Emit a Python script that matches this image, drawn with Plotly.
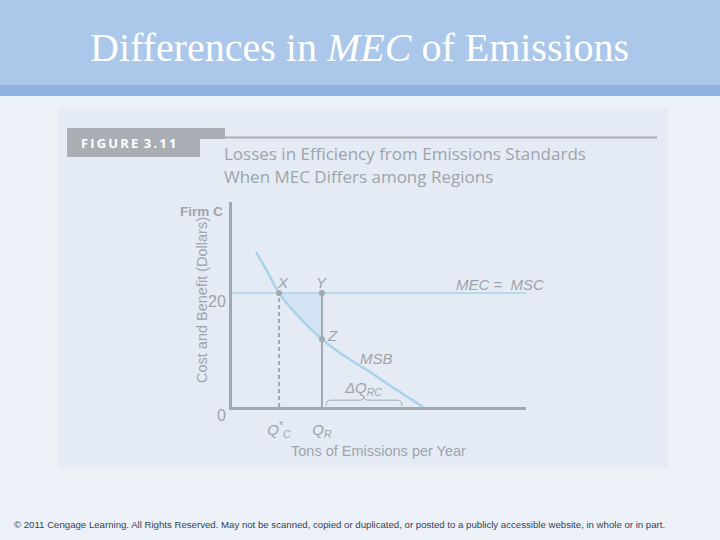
import plotly.graph_objects as go

# ---------------- data ----------------
msb_x = [0.82, 1.20, 1.60, 2.31, 3.06, 3.84, 4.59, 5.54, 6.50]
msb_y = [27.2, 23.8, 20.0, 15.6, 11.9, 8.9, 6.5, 3.2, 0.0]
mec_value = 20.0
mec_x = [0.0, 10.0]
q_c_star = 1.60     # X
q_r = 3.06          # Y / Z
z_value = 11.9
brace_range = [3.2, 5.78]
y_tick_vals = [0, 20]
y_tick_text = ["0", "20"]
x_tick_vals = [q_c_star, q_r]
x_tick_text = ["<i>Q</i><sup>*</sup><sub><i>C</i></sub>", "<i>Q</i><sub><i>R</i></sub>"]

# ---------------- layout geometry ----------------
W, H = 720, 540
L, R, T, B = 232, 526, 202, 407  # plot area in pixels


def px(x):
    return (x - L) / (R - L)


def py(y):
    return (B - y) / (B - T)


GRAY = "#a2a8b0"
TXT = "#9ea4ab"
BLUE = "#a9d3ea"
cond = "Liberation Sans Narrow, Arial Narrow, Liberation Sans, Arial"

fig = go.Figure()

# shaded triangle XYZ
sx = [v for v in msb_x if q_c_star <= v <= q_r]
sy = [msb_y[msb_x.index(v)] for v in sx]
fig.add_trace(go.Scatter(x=sx + [q_r, q_c_star], y=sy + [mec_value, mec_value],
                         fill="toself", fillcolor="rgba(205,224,243,0.75)",
                         line=dict(width=0), mode="lines", hoverinfo="skip"))
# MEC = MSC line
fig.add_trace(go.Scatter(x=mec_x, y=[mec_value, mec_value], mode="lines",
                         line=dict(color=BLUE, width=1.5), hoverinfo="skip"))
# MSB curve
fig.add_trace(go.Scatter(x=msb_x, y=msb_y, mode="lines",
                         line=dict(color=BLUE, width=2.5, shape="spline", smoothing=0.8),
                         hoverinfo="skip"))
# vertical lines
fig.add_trace(go.Scatter(x=[q_c_star, q_c_star], y=[0, mec_value], mode="lines",
                         line=dict(color=GRAY, width=2, dash="4px,3px"), hoverinfo="skip"))
fig.add_trace(go.Scatter(x=[q_r, q_r], y=[0, mec_value], mode="lines",
                         line=dict(color=GRAY, width=2), hoverinfo="skip"))
# points X, Y, Z
fig.add_trace(go.Scatter(x=[q_c_star, q_r, q_r], y=[mec_value, mec_value, z_value],
                         mode="markers", marker=dict(color=GRAY, size=6), hoverinfo="skip"))

# brace
b0, b1 = brace_range
bm = (b0 + b1) / 2
yb, yt, yp = 0.25, 1.2, 1.9
d = 0.15
path = (f"M {b0},{yb} Q {b0},{yt} {b0+d},{yt} L {bm-d},{yt} Q {bm},{yt} {bm},{yp} "
        f"Q {bm},{yt} {bm+d},{yt} L {b1-d},{yt} Q {b1},{yt} {b1},{yb}")

shapes = [
    # page background regions
    dict(type="rect", xref="paper", yref="paper", x0=px(0), x1=px(W), y0=py(H), y1=py(0),
         fillcolor="#ecf1f8", line=dict(width=0), layer="below"),
    dict(type="rect", xref="paper", yref="paper", x0=px(58), x1=px(668), y0=py(468), y1=py(108),
         fillcolor="#e4ebf4", line=dict(width=0), layer="below"),
    dict(type="rect", xref="paper", yref="paper", x0=px(0), x1=px(W), y0=py(86), y1=py(0),
         fillcolor="#abc7ea", line=dict(width=0), layer="below"),
    dict(type="rect", xref="paper", yref="paper", x0=px(0), x1=px(W), y0=py(96), y1=py(85),
         fillcolor="#8fb1df", line=dict(width=0), layer="below"),
    # figure header box
    dict(type="rect", xref="paper", yref="paper", x0=px(67), x1=px(200), y0=py(157), y1=py(128),
         fillcolor="#a9adb4", line=dict(width=0), layer="below"),
    dict(type="rect", xref="paper", yref="paper", x0=px(200), x1=px(225), y0=py(139), y1=py(128),
         fillcolor="#a9adb4", line=dict(width=0), layer="below"),
    dict(type="line", xref="paper", yref="paper", x0=px(225), x1=px(657), y0=py(137.5), y1=py(137.5),
         line=dict(color="#a9adb4", width=2), layer="below"),
    # brace
    dict(type="path", xref="x", yref="y", path=path, line=dict(color=GRAY, width=1)),
]

ann = []


def A(text, x, y, size, color=TXT, family=cond, xref="x", yref="y", xanchor="center",
      yanchor="middle", angle=0):
    ann.append(dict(text=text, x=x, y=y, xref=xref, yref=yref, showarrow=False,
                    xanchor=xanchor, yanchor=yanchor, textangle=angle,
                    font=dict(size=size, color=color, family=family)))


# slide title
A("Differences in <i>MEC</i> of Emissions", px(359), py(47), 40, "white",
  "Liberation Serif, Times New Roman, serif", "paper", "paper")
# figure header
A("<b>F\u2009I\u2009G\u2009U\u2009R\u2009E\u2009 3\u2009.\u20091\u20091</b>", px(128), py(142.5), 13,
  "white", "Open Sans, Lato, sans-serif", "paper", "paper")
A("Losses in Efficiency from Emissions Standards", px(222), py(153), 17, TXT,
  "Open Sans, Lato, sans-serif", "paper", "paper", xanchor="left")
A("When MEC Differs among Regions", px(222), py(176), 17, TXT,
  "Open Sans, Lato, sans-serif", "paper", "paper", xanchor="left")
# axis texts
A("<b>Firm C</b>", px(201), py(211), 13.5, TXT, cond, "paper", "paper")
A("Cost and Benefit (Dollars)", px(202), py(300), 14.5, TXT, cond, "paper", "paper", angle=-90)
A("Tons of Emissions per Year", px(378), py(451), 14.5, TXT, cond, "paper", "paper")
# chart labels
A("<i>X</i>", q_c_star + 0.15, mec_value + 1.9, 15)
A("<i>Y</i>", q_r, mec_value + 1.9, 15)
A("<i>Z</i>", q_r + 0.35, z_value + 0.7, 15)
A("<i>MSB</i>", 4.9, 8.6, 15)
A("<i>MEC</i> =  <i>MSC</i>", 9.1, mec_value + 1.5, 15)
A("<i>\u0394Q</i><sub><i>RC</i></sub>", 4.45, 3.3, 15)
# footer
A("\u00a9 2011 Cengage Learning. All Rights Reserved. May not be scanned, copied or duplicated, "
  "or posted to a publicly accessible website, in whole or in part.",
  px(12), py(524), 9.65, "#34425a", "Liberation Sans, Arial, sans-serif", "paper", "paper",
  xanchor="left")

fig.update_layout(
    width=W, height=H, autosize=False,
    margin=dict(l=L, r=W - R, t=T, b=H - B, pad=0),
    paper_bgcolor="#ecf1f8", plot_bgcolor="rgba(0,0,0,0)",
    showlegend=False, shapes=shapes, annotations=ann,
    xaxis=dict(range=[0, 10], showgrid=False, zeroline=False, showline=True,
               linecolor=GRAY, linewidth=3, tickvals=x_tick_vals, ticktext=x_tick_text,
               ticks="outside", ticklen=7, tickcolor="rgba(0,0,0,0)",
               tickfont=dict(size=15, color=TXT, family=cond), automargin=False,
               fixedrange=True),
    yaxis=dict(range=[0, 36], showgrid=False, zeroline=False, showline=True,
               linecolor=GRAY, linewidth=3, tickvals=y_tick_vals, ticktext=y_tick_text,
               ticks="", ticklabelshift=8,
               tickfont=dict(size=16, color=TXT, family=cond), automargin=False,
               fixedrange=True),
)

fig.write_html("out.html")
